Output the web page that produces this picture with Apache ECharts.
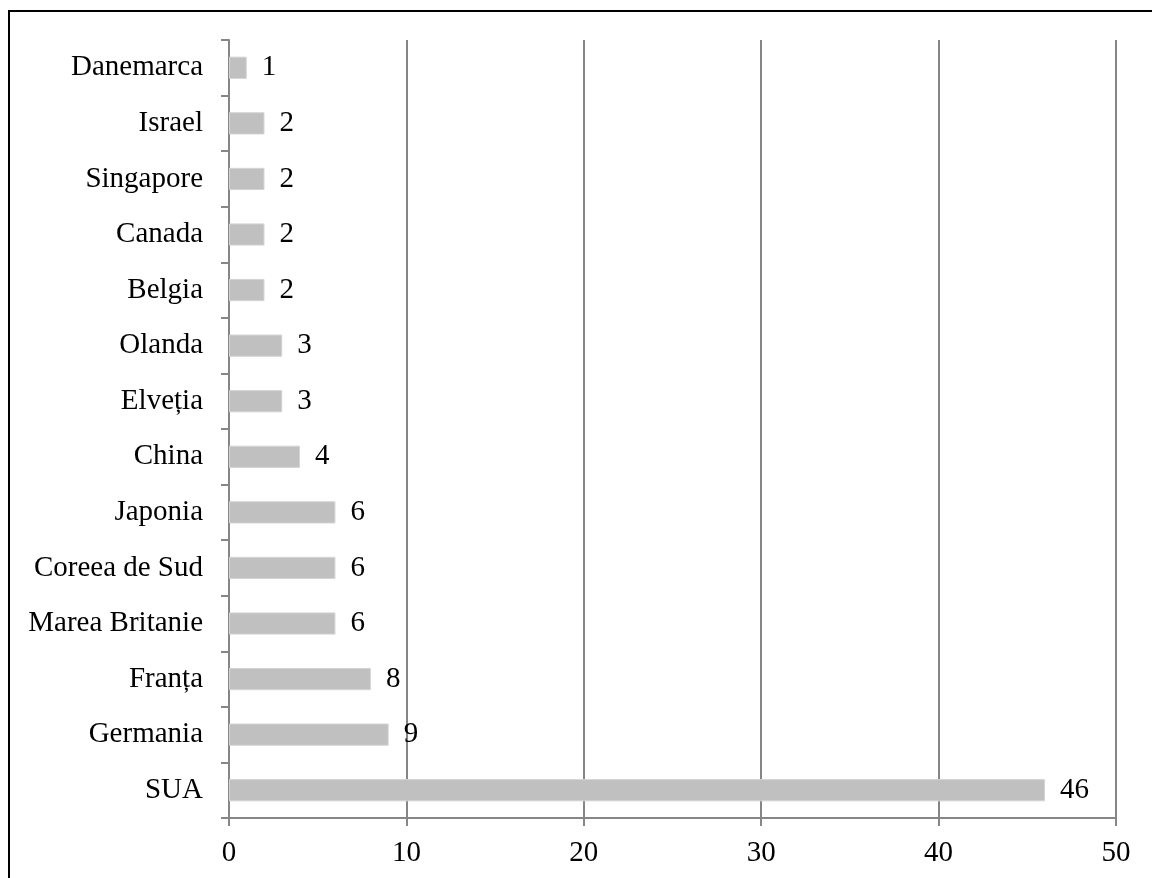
<!DOCTYPE html>
<html>
<head>
<meta charset="utf-8">
<script src="https://cdn.jsdelivr.net/npm/echarts@6/dist/echarts.min.js"></script>
<style>
  html, body { margin: 0; padding: 0; background: #fff; }
  #grafic { width: 1152px; height: 878px; }
</style>
</head>
<body>
<div id="grafic"></div>
<script>
// date (de jos in sus)
const tari = ["SUA", "Germania", "Franța", "Marea Britanie", "Coreea de Sud", "Japonia",
  "China", "Elveția", "Olanda", "Belgia", "Canada", "Singapore", "Israel", "Danemarca"];
const valori = [46, 9, 8, 6, 6, 6, 4, 3, 3, 2, 2, 2, 2, 1];
const eticheteX = [0, 10, 20, 30, 40, 50];

const font = "'Liberation Serif', 'Times New Roman', serif";
const culoareAxa = "#868686";
const marimeFont = 29;

const grafic = echarts.init(document.getElementById("grafic"));

const opciuni = {
  animation: false,
  backgroundColor: "#fff",
  graphic: [{
    type: "rect",
    shape: { x: 9, y: 11, width: 1300, height: 1000 },
    style: { fill: "none", stroke: "#000", lineWidth: 2 },
    silent: true,
    z: -1
  }],
  grid: { left: 229, top: 40, right: 36, bottom: 60 },
  xAxis: {
    type: "value",
    min: eticheteX[0],
    max: eticheteX[eticheteX.length - 1],
    interval: 10,
    axisLine: { show: true, lineStyle: { color: culoareAxa, width: 2 } },
    axisTick: { show: true, length: 8, lineStyle: { color: culoareAxa, width: 2 } },
    splitLine: { show: true, lineStyle: { color: culoareAxa, width: 2 } },
    axisLabel: { color: "#000", fontFamily: font, fontSize: marimeFont, margin: 21 }
  },
  yAxis: {
    type: "category",
    data: tari,
    axisLine: { show: true, lineStyle: { color: culoareAxa, width: 2 } },
    axisTick: { show: true, length: 8, lineStyle: { color: culoareAxa, width: 2 } },
    axisLabel: { color: "#000", fontFamily: font, fontSize: marimeFont, margin: 26 }
  },
  series: [{
    type: "bar",
    data: valori,
    barWidth: "40%",
    itemStyle: { color: "#c0c0c0", borderColor: "#d4d4d4", borderWidth: 1 },
    label: {
      show: true,
      position: "right",
      distance: 15,
      color: "#000",
      fontFamily: font,
      fontSize: marimeFont
    }
  }]
};

grafic.setOption(opciuni);
</script>
</body>
</html>
